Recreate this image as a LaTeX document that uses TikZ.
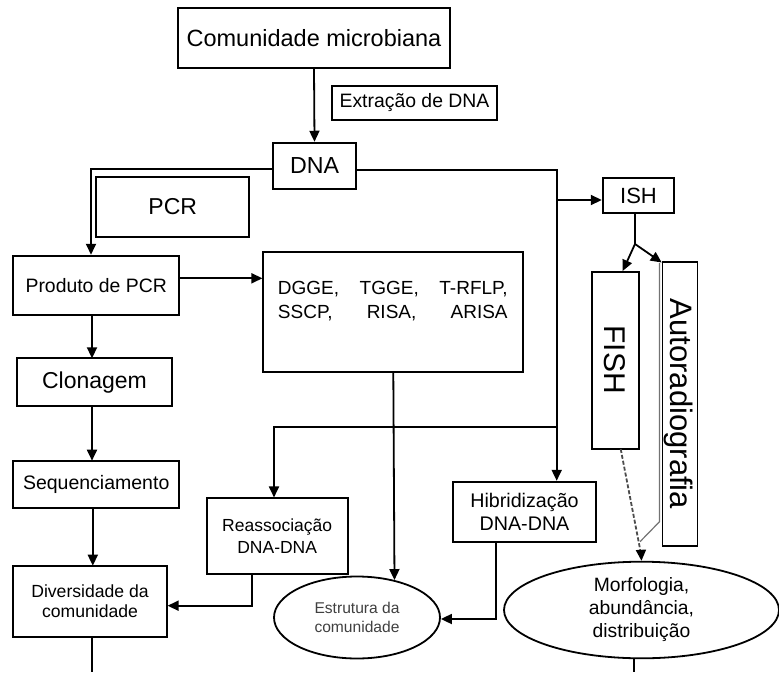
\documentclass[tikz,border=0pt]{standalone}
\usepackage{fontspec}
\setmainfont{Liberation Sans}
\usetikzlibrary{arrows.meta,shapes.geometric}
\newcommand\fsz[2]{\fontsize{#1}{#2}\selectfont}
\tikzset{
  box/.style={draw, line width=1.8pt, inner sep=0pt, align=center, fill=white},
  oval/.style={draw, ellipse, line width=1.8pt, inner sep=0pt, align=center},
  conn/.style={line width=1.8pt},
  arr/.style={conn, -{Triangle[length=11pt,width=10pt]}},
}
\begin{document}
\begin{tikzpicture}[x=1pt,y=-1pt]
\useasboundingbox (0,0) rectangle (779,672);

% boxes
\node[box, minimum width=272pt, minimum height=60pt, font={\fsz{23.5}{28}}] (comm) at (314,38) {Comunidade microbiana};
\node[box, minimum width=165.6pt, minimum height=34.3pt, font={\fsz{19.4}{23}}] (extr) at (414.5,102.8) {Extração de DNA};
\node[box, minimum width=82.4pt, minimum height=46.3pt, font={\fsz{23.2}{28}}] (dna) at (314.5,165.8) {DNA};
\node[box, minimum width=153.3pt, minimum height=59.4pt, font={\fsz{23}{28}}] (pcr) at (172.7,207) {PCR};
\node[box, minimum width=165.7pt, minimum height=59.3pt, font={\fsz{19.4}{23}}] (prod) at (96.2,285.3) {Produto de PCR};
\node[box, minimum width=260pt, minimum height=120.6pt] (tech) at (393.3,312) {};
\node[text width=229.7pt, align=justify, inner sep=0pt, font={\fsz{19}{23.7}}] (techtxt) at (392.8,301)
  {DGGE,\hfill TGGE,\hfill T-RFLP,\\ SSCP,\hfill RISA,\hfill ARISA};
\node[box, minimum width=154.4pt, minimum height=47.7pt, font={\fsz{23}{28}}] (clon) at (94.5,382.2) {Clonagem};
\node[box, minimum width=165.7pt, minimum height=47.6pt, font={\fsz{19.5}{23}}] (seq) at (96.2,484.5) {Sequenciamento};
\node[box, minimum width=153.4pt, minimum height=71pt, font={\fsz{17.6}{20}}] (div) at (90,601.2) {Diversidade da\\comunidade};
\node[box, minimum width=141pt, minimum height=75.7pt, font={\fsz{17.5}{22.3}}] (reas) at (277.2,536.2) {Reassociação\\DNA-DNA};
\node[box, minimum width=142.4pt, minimum height=60.6pt, font={\fsz{19.7}{23.3}}] (hib) at (524.5,512) {Hibridização\\DNA-DNA};
\node[oval, minimum width=166pt, minimum height=82pt, text=black!75, font={\fsz{15.6}{18.7}}] (estr) at (357,617.5) {Estrutura da\\comunidade};
\node[box, minimum width=71.6pt, minimum height=35.6pt, font={\fsz{22}{26}}] (ish) at (638.5,195.5) {ISH};
\node[box, minimum width=47pt, minimum height=176.7pt] (fish) at (615.2,360.7) {};
\node[rotate=-90, inner sep=0pt, font={\fsz{30}{34}}] (fishtxt) at (615,359.5) {FISH};
\node[box, minimum width=35pt, minimum height=283.4pt] (auto) at (680,404) {};
\node[rotate=-90, inner sep=0pt, font={\fsz{31}{35}}] (autotxt) at (678.6,404) {Autoradiografia};
\node[oval, minimum width=275pt, minimum height=96.6pt, font={\fsz{19.3}{23}}] (morf) at (641.5,610) {Morfologia,\\abundância,\\distribuição};

% junction points
\coordinate (dl) at (91,169);
\coordinate (dr) at (556.7,170);
\coordinate (ishj) at (556.7,200);
\coordinate (hj) at (556.7,426.7);
\coordinate (rj) at (274,426.7);
\coordinate (rx) at (251.7,605.7);
\coordinate (hx) at (496,619);
\coordinate (split) at (635,244);
\coordinate (fishtip) at (622.7,271);
\coordinate (autotip) at (661.7,262.5);
\coordinate (fishbot) at (620.7,449);
\coordinate (graytop) at (659.5,263);
\coordinate (graybend) at (659.5,521.7);
\coordinate (grayend) at (640,541.7);
\coordinate (divend) at (92.3,672);
\coordinate (morfend) at (634,672);

% connectors
\draw[arr] (comm.south) -- (dna.north);
\draw[arr] (dna.west |- dl) -- (dl) -- (dl |- prod.north);
\draw[arr] (prod.east |- 0,278.3) -- (tech.west |- 0,278.3);
\draw[arr] (dna.east |- dr) -- (dr) -- (dr |- hib.north);
\draw[arr] (ishj) -- (ish.west |- ishj);
\draw[arr] (hj) -- (rj) -- (rj |- reas.north);
\draw[arr] (tech.south) -- (estr.45.5);
\draw[arr] (reas.south -| rx) -- (rx) -- (div.east |- rx);
\draw[arr] (hib.south -| hx) -- (hx) -- (estr.east |- hx);
\draw[arr] (92,315) -- (92,358.3);
\draw[arr] (92,406) -- (92,460.7);
\draw[arr] (92.8,508.3) -- (92.8,565.7);
\draw[conn] (div.south -| divend) -- (divend);
\draw[conn] (ish.south -| split) -- (split);
\draw[arr] (split) -- (fishtip);
\draw[arr] (split) -- (autotip);
\draw[conn, black!55, line width=1.2pt] (graytop) -- (graybend) -- (grayend);
\draw[conn, black!70, dash pattern=on 4pt off 2pt] (fishbot) -- (641.6,557);
\draw[arr] (641,551) -- (morf.north);
\draw[conn] (morf.south -| morfend) -- (morfend);
\end{tikzpicture}
\end{document}
